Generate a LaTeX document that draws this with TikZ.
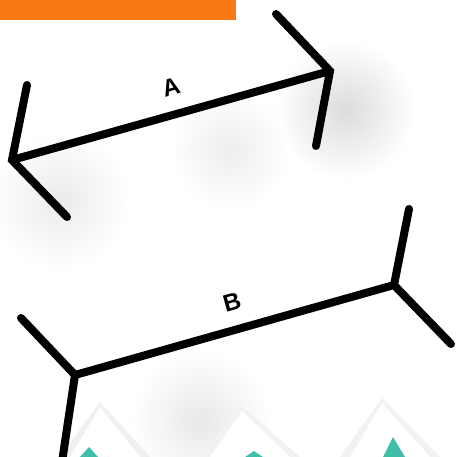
\documentclass[tikz,border=0pt]{standalone}
\usepackage{fontspec}
\setmainfont{Liberation Sans}
\usetikzlibrary{shadings}
\definecolor{bandorange}{HTML}{F87A14}
\definecolor{tealtip}{HTML}{3FBFA8}
\tikzset{
  seg/.style={line width=8pt, line cap=round, black},
  lbl/.style={font=\bfseries\fontsize{24}{24}\selectfont, rotate=15.6, inner sep=0pt},
  blob/.style={inner color=black!14, outer color=white},
}
\begin{document}
\begin{tikzpicture}[x=1pt,y=-1pt]
\useasboundingbox (0,0) rectangle (456,457);
\fill[white] (0,0) rectangle (456,457);
% soft shadows
\shade[blob] (345,110) circle (70);
\shade[blob, inner color=black!8] (60,200) circle (70);
\shade[blob, inner color=black!7] (230,150) circle (60);
\shade[blob, inner color=black!9] (200,420) circle (70);
% bottom triangles
\fill[black!6] (60,457) -- (100,402) -- (150,457) -- cycle;
\fill[black!5] (200,457) -- (242,406) -- (300,457) -- cycle;
\fill[black!5] (340,457) -- (382,398) -- (440,457) -- cycle;
\fill[white] (70,457) -- (100,407) -- (140,457) -- cycle;
\fill[white] (210,457) -- (242,411) -- (290,457) -- cycle;
\fill[white] (350,457) -- (382,403) -- (430,457) -- cycle;
\fill[tealtip] (80,457) -- (89,447) -- (98,457) -- cycle;
\fill[tealtip] (245,457) -- (254,451) -- (263,457) -- cycle;
\fill[tealtip] (383,457) -- (393,437) -- (405,457) -- cycle;
% orange band
\fill[bandorange] (0,0) rectangle (236,20);
% figure A
\coordinate (aL) at (12,160);
\coordinate (aR) at (330,71);
\coordinate (aL1) at (27,85);
\coordinate (aL2) at (67,217);
\coordinate (aR1) at (276,14);
\coordinate (aR2) at (316,146);
\draw[seg] (aL) -- (aR);
\draw[seg] (aL1) -- (aL) -- (aL2);
\draw[seg] (aR1) -- (aR) -- (aR2);
\node[lbl] (labA) at (171,87) {A};
% figure B
\coordinate (bL) at (75,375);
\coordinate (bR) at (394,285);
\coordinate (bL1) at (21,318);
\coordinate (bL2) at (62,462);
\coordinate (bR1) at (409,209);
\coordinate (bR2) at (451,344);
\draw[seg] (bL) -- (bR);
\draw[seg] (bL1) -- (bL) -- (bL2);
\draw[seg] (bR1) -- (bR) -- (bR2);
\node[lbl] (labB) at (232,302) {B};
\end{tikzpicture}
\end{document}
